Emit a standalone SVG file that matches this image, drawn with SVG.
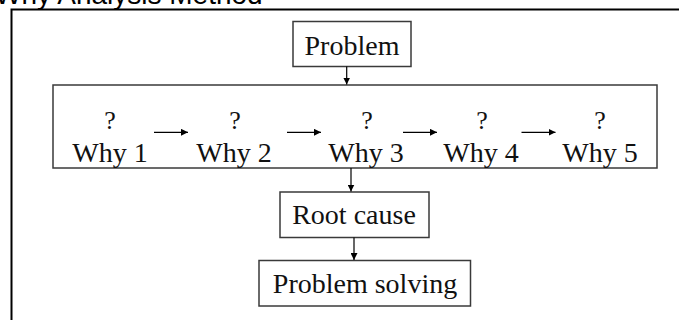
<svg xmlns="http://www.w3.org/2000/svg" width="679" height="320" viewBox="0 0 679 320">
  <style>
    .box { fill: #ffffff; stroke: #3a3a3a; stroke-width: 1.5; }
    .t { font-family: "Liberation Serif", "Times New Roman", serif; font-size: 28px; fill: #111; text-anchor: middle; }
    .q { font-family: "Liberation Serif", "Times New Roman", serif; font-size: 26px; fill: #111; text-anchor: middle; }
    .title { font-family: "Liberation Sans", Arial, sans-serif; font-size: 28px; fill: #000; }
    .ln { stroke: #000; stroke-width: 1.2; fill: none; }
  </style>
  <defs>
    <marker id="ah" viewBox="0 0 10 10" refX="10" refY="5" markerWidth="7" markerHeight="7" markerUnits="userSpaceOnUse" orient="auto">
      <path d="M0,0 L10,5 L0,10 Z" fill="#000"/>
    </marker>
  </defs>
  <rect width="679" height="320" fill="#fff"/>
  <g id="frame">
    <path d="M11.5,320 L11.5,9.5 L679,9.5" fill="none" stroke="#000" stroke-width="2"/>
    <text class="title" x="-5" y="4">Why Analysis Method</text>
  </g>
  <g id="problem">
    <rect class="box" x="293" y="21.5" width="118" height="45"/>
    <text class="t" x="352" y="55">Problem</text>
  </g>
  <g id="whys">
    <rect class="box" x="53" y="85" width="604" height="83"/>
    <g id="why1"><text class="q" x="110" y="129">?</text><text class="t" x="110" y="162">Why 1</text></g>
    <g id="why2"><text class="q" x="235" y="129">?</text><text class="t" x="234" y="162">Why 2</text></g>
    <g id="why3"><text class="q" x="367" y="129">?</text><text class="t" x="366" y="162">Why 3</text></g>
    <g id="why4"><text class="q" x="482" y="129">?</text><text class="t" x="481" y="162">Why 4</text></g>
    <g id="why5"><text class="q" x="600" y="129">?</text><text class="t" x="600" y="162">Why 5</text></g>
  </g>
  <g id="rootcause">
    <rect class="box" x="280" y="192" width="149" height="45.5"/>
    <text class="t" x="354" y="224">Root cause</text>
  </g>
  <g id="solving">
    <rect class="box" x="259" y="260.5" width="211.5" height="45.5"/>
    <text class="t" x="365" y="293">Problem solving</text>
  </g>
  <g id="connectors">
    <line class="ln" x1="346.7" y1="66.5" x2="346.7" y2="84.5" marker-end="url(#ah)"/>
    <line class="ln" x1="154" y1="132.3" x2="188" y2="132.3" marker-end="url(#ah)"/>
    <line class="ln" x1="287" y1="132.3" x2="321" y2="132.3" marker-end="url(#ah)"/>
    <line class="ln" x1="403" y1="132.3" x2="437" y2="132.3" marker-end="url(#ah)"/>
    <line class="ln" x1="521.5" y1="132.3" x2="555.5" y2="132.3" marker-end="url(#ah)"/>
    <line class="ln" x1="351" y1="168" x2="351" y2="191.5" marker-end="url(#ah)"/>
    <line class="ln" x1="354" y1="237.5" x2="354" y2="260" marker-end="url(#ah)"/>
  </g>
</svg>
